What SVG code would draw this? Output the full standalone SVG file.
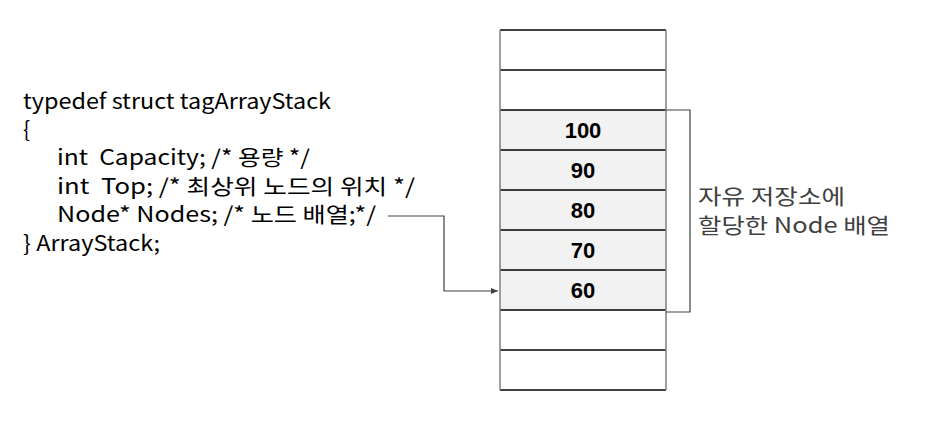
<svg xmlns="http://www.w3.org/2000/svg" width="925" height="426" viewBox="0 0 925 426">
<style>
.code{font-family:"Noto Sans CJK KR","Liberation Sans",sans-serif;font-size:21px;fill:#000;white-space:pre}
.num{font-family:"Liberation Sans","Noto Sans CJK KR",sans-serif;font-size:22px;font-weight:bold;fill:#000;text-anchor:middle}
.note{font-family:"Noto Sans CJK KR","Liberation Sans",sans-serif;font-size:21px;fill:#404040}
.cell{stroke:#000;stroke-width:1.3}
.side{stroke:#7f7f7f;stroke-width:1.5;fill:none}
.conn{stroke:#404040;stroke-width:1.2;fill:none}
</style>
<defs>
<marker id="arr" markerWidth="8" markerHeight="8" refX="7" refY="4" orient="auto" markerUnits="userSpaceOnUse">
<path d="M0,1 L7,4 L0,7 z" fill="#404040"/>
</marker>
</defs>
<rect width="925" height="426" fill="#fff"/>
<g id="code">
<text class="code" x="23" y="109" textLength="308" lengthAdjust="spacingAndGlyphs">typedef struct tagArrayStack</text>
<text class="code" x="23" y="137">{</text>
<text class="code" x="57" y="165" textLength="253" lengthAdjust="spacingAndGlyphs">int  Capacity; /* 용량 */</text>
<text class="code" x="57" y="194" textLength="358" lengthAdjust="spacingAndGlyphs">int  Top; /* 최상위 노드의 위치 */</text>
<text class="code" x="57" y="222" textLength="319" lengthAdjust="spacingAndGlyphs">Node* Nodes; /* 노드 배열;*/</text>
<text class="code" x="23" y="251" textLength="137" lengthAdjust="spacingAndGlyphs">} ArrayStack;</text>
</g>
<g id="array">
<rect x="500" y="110" width="166" height="200" fill="#f2f2f2"/>
<g class="cell">
<line x1="500" y1="30" x2="666" y2="30"/>
<line x1="500" y1="70" x2="666" y2="70"/>
<line x1="500" y1="110" x2="666" y2="110"/>
<line x1="500" y1="150" x2="666" y2="150"/>
<line x1="500" y1="190" x2="666" y2="190"/>
<line x1="500" y1="230" x2="666" y2="230"/>
<line x1="500" y1="270" x2="666" y2="270"/>
<line x1="500" y1="310" x2="666" y2="310"/>
<line x1="500" y1="350" x2="666" y2="350"/>
<line x1="500" y1="390" x2="666" y2="390"/>
</g>
<line class="side" x1="500" y1="30" x2="500" y2="390"/>
<line class="side" x1="666" y1="30" x2="666" y2="390"/>
<text class="num" x="583" y="138">100</text>
<text class="num" x="583" y="178">90</text>
<text class="num" x="583" y="218">80</text>
<text class="num" x="583" y="258">70</text>
<text class="num" x="583" y="298">60</text>
</g>
<g id="note">
<text class="note" x="698" y="204" textLength="147" lengthAdjust="spacingAndGlyphs">자유 저장소에</text>
<text class="note" x="698" y="233" textLength="192" lengthAdjust="spacingAndGlyphs">할당한 Node 배열</text>
</g>
<g id="connectors">
<path class="conn" d="M666,110 H690 V312 H666"/>
<path class="conn" d="M388,216 H444 V291 H498" marker-end="url(#arr)"/>
</g>
</svg>
